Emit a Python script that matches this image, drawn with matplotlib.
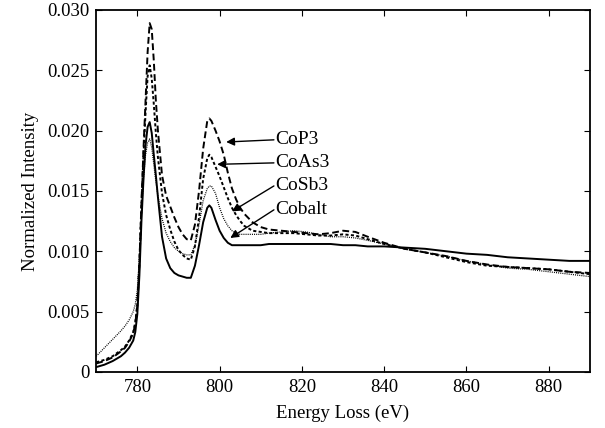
import matplotlib
matplotlib.use("Agg")
import matplotlib.pyplot as plt
from matplotlib.ticker import FuncFormatter

# Energy loss axis (eV)
energy = [770, 772, 774, 776, 777, 778, 779, 779.5, 780, 780.5, 781, 781.5, 782, 782.5,
          783, 783.5, 784, 784.5, 785, 786, 787, 788, 789, 790, 791, 792, 793, 794,
          795, 796, 797, 797.5, 798, 799, 800, 801, 802, 803, 804, 805, 806, 808,
          810, 812, 815, 818, 821, 824, 827, 830, 833, 836, 840, 845, 850, 855,
          860, 865, 870, 875, 880, 885, 890]

cop3 = [0.0007, 0.0009, 0.0012, 0.0017, 0.0020, 0.0025, 0.0032, 0.0040, 0.0055, 0.0090,
        0.0140, 0.0185, 0.0225, 0.0265, 0.0289, 0.0284, 0.0258, 0.0225, 0.0200, 0.0163,
        0.0146, 0.0137, 0.0128, 0.0120, 0.0114, 0.0110, 0.0109, 0.0122, 0.0150, 0.0185,
        0.0208, 0.0210, 0.0208, 0.0200, 0.0191, 0.0180, 0.0165, 0.0152, 0.0143, 0.0136,
        0.0131, 0.0124, 0.0120, 0.0118, 0.0117, 0.0116, 0.0115, 0.0114, 0.0115, 0.0117,
        0.0116, 0.0112, 0.0107, 0.0102, 0.0099, 0.0096, 0.0092, 0.0089, 0.0087, 0.0086,
        0.0085, 0.0083, 0.0082]

coas3 = [0.0008, 0.0010, 0.0013, 0.0018, 0.0021, 0.0026, 0.0033, 0.0041, 0.0056, 0.0090,
         0.0138, 0.0180, 0.0215, 0.0245, 0.0254, 0.0243, 0.0222, 0.0198, 0.0178, 0.0148,
         0.0130, 0.0118, 0.0108, 0.0101, 0.0097, 0.0094, 0.0093, 0.0104, 0.0128, 0.0160,
         0.0177, 0.0180, 0.0178, 0.0170, 0.0162, 0.0153, 0.0144, 0.0136, 0.0130, 0.0125,
         0.0121, 0.0117, 0.0116, 0.0115, 0.0115, 0.0115, 0.0114, 0.0113, 0.0113, 0.0114,
         0.0113, 0.0110, 0.0106, 0.0102, 0.0099, 0.0095, 0.0091, 0.0088, 0.0087, 0.0086,
         0.0085, 0.0083, 0.0081]

cosb3 = [0.0013, 0.0020, 0.0027, 0.0034, 0.0038, 0.0043, 0.0050, 0.0056, 0.0068, 0.0095,
         0.0130, 0.0160, 0.0180, 0.0190, 0.0193, 0.0186, 0.0172, 0.0158, 0.0146, 0.0127,
         0.0115, 0.0108, 0.0103, 0.0100, 0.0098, 0.0097, 0.0097, 0.0105, 0.0122, 0.0142,
         0.0152, 0.0154, 0.0154, 0.0148, 0.0136, 0.0127, 0.0121, 0.0117, 0.0115, 0.0114,
         0.0114, 0.0114, 0.0114, 0.0115, 0.0116, 0.0117, 0.0116, 0.0114, 0.0112, 0.0112,
         0.0111, 0.0109, 0.0106, 0.0102, 0.0099, 0.0096, 0.0092, 0.0089, 0.0086, 0.0085,
         0.0083, 0.0081, 0.0079]

cobalt = [0.0004, 0.0006, 0.0009, 0.0013, 0.0016, 0.0020, 0.0026, 0.0033, 0.0048, 0.0080,
          0.0125, 0.0160, 0.0188, 0.0203, 0.0207, 0.0198, 0.0180, 0.0163, 0.0145, 0.0112,
          0.0094, 0.0086, 0.0082, 0.0080, 0.0079, 0.0078, 0.0078, 0.0088, 0.0105, 0.0124,
          0.0136, 0.0138, 0.0136, 0.0126, 0.0117, 0.0111, 0.0107, 0.0105, 0.0105, 0.0105,
          0.0105, 0.0105, 0.0105, 0.0106, 0.0106, 0.0106, 0.0106, 0.0106, 0.0106, 0.0105,
          0.0105, 0.0104, 0.0104, 0.0103, 0.0102, 0.0100, 0.0098, 0.0097, 0.0095, 0.0094,
          0.0093, 0.0092, 0.0092]

# label positions and arrow tips (data coords)
labels = ["CoP3", "CoAs3", "CoSb3", "Cobalt"]
label_y = [0.01923, 0.01732, 0.01541, 0.01343]
tip_x = [801.6, 799.4, 803.0, 802.6]
tip_y = [0.01905, 0.01720, 0.01330, 0.01110]

plt.rcParams["font.family"] = ["Liberation Serif", "DejaVu Serif"]

fig = plt.figure(figsize=(6.05, 4.28), dpi=100)
ax = fig.add_axes([0.159, 0.131, 0.816, 0.846])

ax.plot(energy, cop3, color="black", lw=1.4, dashes=(3.5, 1.8))
ax.plot(energy, coas3, color="black", lw=1.4, dashes=(1.6, 1.2))
ax.plot(energy, cosb3, color="black", lw=0.9, dashes=(0.8, 0.9))
ax.plot(energy, cobalt, color="black", lw=1.4)

text_x = 813.5
for name, ly, tx, ty in zip(labels, label_y, tip_x, tip_y):
    ax.text(text_x, ly, name, fontsize=14, ha="left", va="center")
    ax.annotate("", xy=(tx, ty), xytext=(text_x - 0.3, ly),
                arrowprops=dict(arrowstyle="-|>", color="black", lw=1.0,
                                mutation_scale=12, shrinkA=0, shrinkB=0))

ax.set_xlim(770, 890)
ax.set_ylim(0, 0.030)
ax.set_xticks([780, 800, 820, 840, 860, 880])
ax.set_yticks([0, 0.005, 0.010, 0.015, 0.020, 0.025, 0.030])
ax.yaxis.set_major_formatter(FuncFormatter(lambda v, p: "0" if v == 0 else f"{v:.3f}"))
ax.tick_params(direction="in", top=True, right=True, length=4, width=0.8,
               labelsize=13.5, pad=5)
for s in ax.spines.values():
    s.set_linewidth(1.3)

ax.set_xlabel("Energy Loss (eV)", fontsize=13.5, labelpad=6)
ax.set_ylabel("Normalized Intensity", fontsize=13.5, labelpad=6)

fig.savefig("out.png", dpi=100)
